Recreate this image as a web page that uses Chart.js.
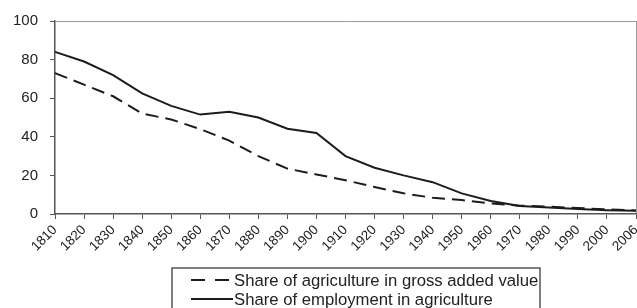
<!DOCTYPE html>
<html>
<head>
<meta charset="utf-8">
<script src="https://cdn.jsdelivr.net/npm/chart.js@4/dist/chart.umd.min.js"></script>
<style>
  html, body { margin: 0; padding: 0; background: #fff; }
  #wrap { width: 637px; height: 308px; }
</style>
</head>
<body>
<div id="wrap"><canvas id="agriChart" width="637" height="308"></canvas></div>
<script>
/* ========= DATA ========= */
const years = ["1810", "1820", "1830", "1840", "1850", "1860", "1870", "1880", "1890", "1900",
  "1910", "1920", "1930", "1940", "1950", "1960", "1970", "1980", "1990", "2000", "2006"];
const valueAdded = [73, 67, 61, 52, 49, 44, 38, 30, 23.5, 20.5,
  17.5, 14, 10.7, 8.4, 7.2, 5.5, 4.3, 3.8, 3.1, 2.4, 1.8];
const employment = [84, 79, 72, 62.5, 56, 51.5, 53, 50, 44.2, 42,
  30, 24, 20, 16.5, 10.7, 6.7, 4.1, 3.4, 2.6, 2, 1.7];
const yTicks = [0, 20, 40, 60, 80, 100];

const FONT = "'Liberation Sans', Arial, sans-serif";
const INK = "#1c1c1c";

/* ========= LEGEND (boxed, line samples) ========= */
const boxLegend = {
  id: "boxLegend",
  afterDraw(chart) {
    const ctx = chart.ctx;
    ctx.save();
    ctx.strokeStyle = "#555";
    ctx.lineWidth = 1.5;
    ctx.strokeRect(172, 268, 368, 60);
    ctx.font = "16.7px " + FONT;
    ctx.textBaseline = "middle";
    chart.data.datasets.forEach((ds, i) => {
      const y = 280 + i * 19;
      ctx.strokeStyle = ds.borderColor;
      ctx.lineWidth = ds.borderWidth;
      ctx.setLineDash(ds.borderDash ? [14, 10] : []);
      ctx.beginPath();
      ctx.moveTo(191, y);
      ctx.lineTo(233, y);
      ctx.stroke();
      ctx.setLineDash([]);
      ctx.fillStyle = "#222";
      ctx.fillText(ds.label, 234, y + 1);
    });
    ctx.restore();
  }
};

/* ========= CHART ========= */
new Chart(document.getElementById("agriChart"), {
  type: "line",
  data: {
    labels: years,
    datasets: [{
      label: "Share of agriculture in gross added value",
      data: valueAdded,
      borderColor: INK,
      borderWidth: 2,
      borderDash: [13, 7],
      pointRadius: 0,
      tension: 0
    }, {
      label: "Share of employment in agriculture",
      data: employment,
      borderColor: INK,
      borderWidth: 2,
      pointRadius: 0,
      tension: 0
    }]
  },
  options: {
    responsive: false,
    animation: false,
    layout: { padding: { top: 20, right: 1, left: 0, bottom: 44 } },
    plugins: { legend: { display: false }, tooltip: { enabled: false } },
    scales: {
      x: {
        offset: false,
        grid: {
          color: c => c.index === years.length - 1 ? "#9a9a9a" : "rgba(0,0,0,0)",
          tickColor: "#555",
          tickLength: 5
        },
        border: { color: "#555", width: 1.5 },
        ticks: {
          autoSkip: false,
          maxRotation: 45,
          minRotation: 45,
          padding: 3,
          color: "#222",
          font: { family: FONT, size: 13.5 }
        },
        afterFit(scale) {
          scale.height = 50;
          scale.paddingRight = 0;
          scale.paddingLeft = 0;
        }
      },
      y: {
        min: 0,
        max: 100,
        afterBuildTicks(scale) {
          scale.ticks = yTicks.map(v => ({ value: v }));
        },
        grid: {
          color: c => c.tick.value === 100 ? "#9a9a9a" : "rgba(0,0,0,0)",
          tickColor: "#555",
          tickLength: 5
        },
        border: { color: "#555", width: 1.5 },
        ticks: {
          padding: 12,
          color: "#222",
          font: { family: FONT, size: 15 }
        },
        afterFit(scale) {
          scale.width = 55;
        }
      }
    }
  },
  plugins: [boxLegend]
});
</script>
</body>
</html>
